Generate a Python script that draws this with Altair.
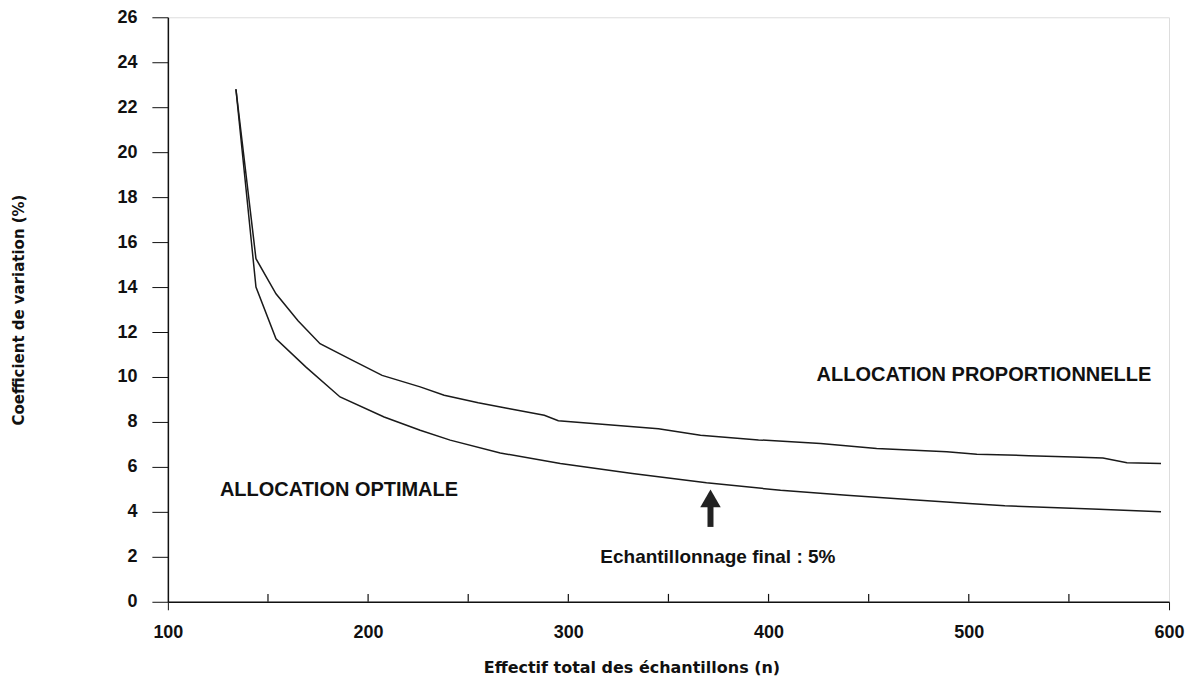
import altair as alt
import pandas as pd

# Proportional allocation curve
n_prop = [134, 144, 154, 165, 176, 192, 207, 226, 238, 255, 270, 288, 295, 320, 345, 366, 395, 426, 454, 489, 504, 530, 552, 567, 579, 596]
cv_prop = [22.8, 15.26, 13.7, 12.5, 11.48, 10.75, 10.07, 9.56, 9.19, 8.85, 8.6, 8.3, 8.05, 7.88, 7.7, 7.41, 7.2, 7.04, 6.82, 6.67, 6.56, 6.5, 6.44, 6.4, 6.18, 6.15]

# Optimal allocation curve
n_opt = [134, 144, 154, 169, 186, 208, 226, 241, 266, 296, 332, 369, 406, 439, 470, 500, 518, 565, 596]
cv_opt = [22.8, 14.0, 11.7, 10.44, 9.11, 8.22, 7.63, 7.19, 6.62, 6.15, 5.71, 5.29, 4.96, 4.74, 4.55, 4.37, 4.27, 4.12, 4.0]

# Annotations
label_text = ["ALLOCATION OPTIMALE", "ALLOCATION PROPORTIONNELLE", "Echantillonnage final : 5%"]
label_x = [126, 424, 316]
label_y = [4.96, 10.1, 1.98]
label_size = [20, 20, 19]

arrow_x = [371]
arrow_y0 = [3.33]
arrow_y1 = [4.4]
arrow_head_y = [4.6]

x_labels = [100, 200, 300, 400, 500, 600]
y_labels = list(range(0, 27, 2))
minor_ticks = [150, 200, 250, 300, 350, 400, 450, 500, 550]
tick_len = 0.35

rows = [{"n": n, "cv": c, "serie": "prop"} for n, c in zip(n_prop, cv_prop)]
rows += [{"n": n, "cv": c, "serie": "opt"} for n, c in zip(n_opt, cv_opt)]
df = pd.DataFrame(rows)

xs = alt.Scale(domain=[100, 600], nice=False)
ys = alt.Scale(domain=[0, 26], nice=False)

FONT = "Liberation Sans"
TFONT = "DejaVu Sans"
INK = "#111"

x_tick_color = {"condition": {"test": "datum.value === 100 || datum.value === 600", "value": INK},
                "value": "rgba(0,0,0,0)"}

lines = alt.Chart(df).mark_line(color="#1a1a1a", strokeWidth=1.5).encode(
    x=alt.X("n:Q", scale=xs, axis=alt.Axis(
        values=x_labels, title="Effectif total des échantillons (n)",
        labelFont=FONT, labelFontSize=18, labelFontWeight="bold", labelColor=INK,
        labelFlush=False,
        titleFont=TFONT, titleFontSize=16, titleFontWeight="bold", titleColor=INK,
        titleX=464,
        tickSize=8, tickColor=x_tick_color, domainColor=INK, domainWidth=1.5,
        labelPadding=14, titlePadding=18, grid=False)),
    y=alt.Y("cv:Q", scale=ys, axis=alt.Axis(
        values=y_labels, title="Coefficient de variation (%)",
        labelFont=FONT, labelFontSize=18, labelFontWeight="bold", labelColor=INK,
        labelFlush=False,
        titleFont=TFONT, titleFontSize=15, titleFontWeight="bold", titleColor=INK,
        tickSize=16, tickColor=INK, domainColor=INK, domainWidth=1.5,
        labelPadding=15, titlePadding=90, grid=False)),
    detail="serie:N",
)

tick_df = pd.DataFrame({"x": minor_ticks, "y0": [0] * len(minor_ticks), "y1": [tick_len] * len(minor_ticks)})
ticks = alt.Chart(tick_df).mark_rule(color=INK, strokeWidth=1.2).encode(
    x=alt.X("x:Q", scale=xs), y=alt.Y("y0:Q", scale=ys), y2="y1:Q")

lab_df = pd.DataFrame({"t": label_text, "x": label_x, "y": label_y, "s": label_size})
labels = alt.Chart(lab_df).mark_text(align="left", baseline="middle", font=FONT,
                                      fontWeight="bold", color=INK).encode(
    x=alt.X("x:Q", scale=xs), y=alt.Y("y:Q", scale=ys), text="t:N",
    size=alt.Size("s:Q", scale=None, legend=None))

arr_df = pd.DataFrame({"x": arrow_x, "y0": arrow_y0, "y1": arrow_y1, "yh": arrow_head_y})
shaft = alt.Chart(arr_df).mark_rule(color="#222", strokeWidth=6).encode(
    x=alt.X("x:Q", scale=xs), y=alt.Y("y0:Q", scale=ys), y2="y1:Q")
head = alt.Chart(arr_df).mark_point(shape="triangle-up", filled=True, size=420,
                                    color="#222", opacity=1).encode(
    x=alt.X("x:Q", scale=xs), y=alt.Y("yh:Q", scale=ys))

chart = alt.layer(lines, ticks, labels, shaft, head).properties(
    width=1002, height=585,
    autosize=alt.AutoSizeParams(type="none"),
    padding={"left": 160, "top": 9, "right": 20, "bottom": 76},
).configure_view(stroke=INK, strokeWidth=1.5).configure(background="white")

chart.save("out.html", embed_options={"renderer": "svg", "actions": False})
